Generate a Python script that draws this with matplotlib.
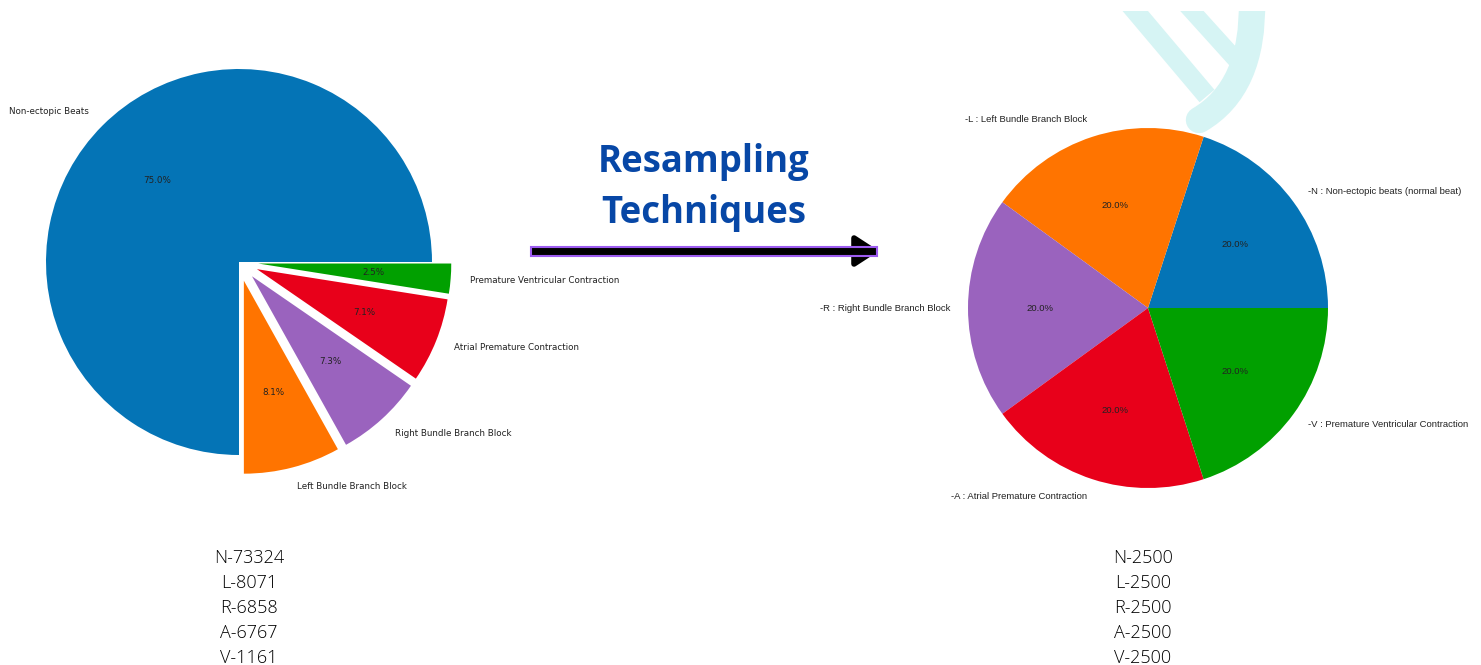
#!/usr/bin/env python3
from matplotlib import pyplot as plt
from matplotlib.patches import Rectangle, Polygon, PathPatch
from matplotlib.path import Path

W, H = 1481, 665

classes = ['N', 'L', 'R', 'A', 'V']
colors = ['#0474B6', '#FF7400', '#9A63BE', '#E8001A', '#01A000']

before_labels = ['Non-ectopic Beats', 'Left Bundle Branch Block',
                 'Right Bundle Branch Block', 'Atrial Premature Contraction',
                 'Premature Ventricular Contraction']
before_pct = [75.0, 8.1, 7.3, 7.1, 2.5]
before_counts = [73324, 8071, 6858, 6767, 1161]

after_labels = ['-N : Non-ectopic beats (normal beat)',
                '-L : Left Bundle Branch Block',
                '-R : Right Bundle Branch Block',
                '-A : Atrial Premature Contraction',
                '-V : Premature Ventricular Contraction']
after_counts = [2500, 2500, 2500, 2500, 2500]

title_lines = ['Resampling', 'Techniques']


def px_axes(fig, cx, cy, half):
    # axes centred on pixel (cx, cy), square of side 2*half pixels
    return fig.add_axes([(cx - half) / W, (H - cy - half) / H,
                         2 * half / W, 2 * half / H])


def main():
    fig = plt.figure(figsize=(W / 100, H / 100), dpi=100)

    lim = 1.25
    # before resampling
    ax1 = px_axes(fig, 239, 262, 193 * lim)
    ax1.pie(before_pct, labels=before_labels, colors=colors,
            explode=[0, 0.1, 0.1, 0.1, 0.1], autopct='%1.1f%%',
            startangle=0, textprops={'fontsize': 6.3, 'color': '#222222'})
    ax1.set_xlim(-lim, lim)
    ax1.set_ylim(-lim, lim)

    # after resampling
    ax2 = px_axes(fig, 1148, 308, 180 * lim)
    ax2.pie(after_counts, labels=after_labels, colors=colors,
            autopct='%1.1f%%', startangle=0,
            textprops={'fontsize': 6.8, 'color': '#222222',
                       'family': 'Liberation Sans'})
    ax2.set_xlim(-lim, lim)
    ax2.set_ylim(-lim, lim)

    # overlay in pixel coordinates for arrow, titles and decoration
    ov = fig.add_axes([0, 0, 1, 1])
    ov.set_xlim(0, W)
    ov.set_ylim(H, 0)
    ov.axis('off')
    ov.patch.set_alpha(0)

    cyan = '#D6F4F4'
    ov.plot([1126, 1207], [0, 96], color=cyan, lw=14,
            solid_capstyle='butt', zorder=3)
    ov.plot([1182, 1238], [0, 62], color=cyan, lw=12.5,
            solid_capstyle='butt', zorder=3)
    curve = Path([(1252, 0), (1254, 88), (1199, 120)],
                 [Path.MOVETO, Path.CURVE3, Path.CURVE3])
    ov.add_patch(PathPatch(curve, facecolor='none', edgecolor=cyan, lw=19,
                           capstyle='round', zorder=3))
    ov.add_patch(Rectangle((1100, 0), 200, 11, facecolor='white',
                           edgecolor='none', zorder=4))

    ov.add_patch(Polygon([(854, 238), (874, 251), (854, 264)], closed=True,
                         facecolor='black', edgecolor='black', lw=4,
                         joinstyle='round'))
    ov.add_patch(Rectangle((531, 247), 346, 9, facecolor='black',
                           edgecolor='#9D5CF0', lw=1.5))

    for i, line in enumerate(title_lines):
        ov.text(704, 162 + 51 * i, line, ha='center', va='center',
                fontsize=26.3, fontweight='bold', color='#0747A6',
                family='Open Sans')

    for i, c in enumerate(classes):
        ov.text(249, 558 + 25 * i, '{}-{}'.format(c, before_counts[i]),
                ha='center', va='center', fontsize=13, color='#000000',
                family='Open Sans', fontweight='light')
        ov.text(1143, 558 + 25 * i, '{}-{}'.format(c, after_counts[i]),
                ha='center', va='center', fontsize=13, color='#000000',
                family='Open Sans', fontweight='light')

    fig.savefig('out.png', dpi=100, facecolor='white')


if __name__ == "__main__":
    main()
